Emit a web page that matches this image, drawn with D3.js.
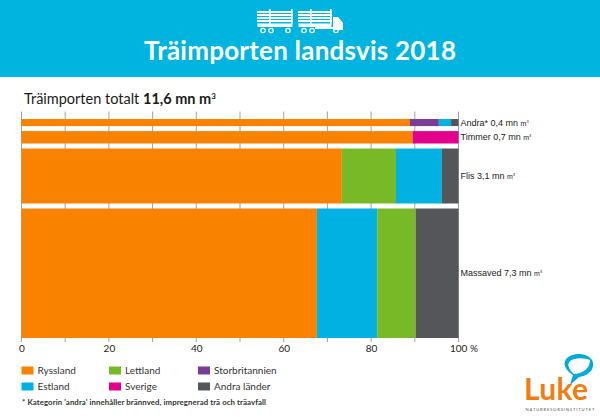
<!DOCTYPE html>
<html>
<head>
<meta charset="utf-8">
<script src="https://cdn.jsdelivr.net/npm/d3@7"></script>
<style>
  html, body { margin: 0; padding: 0; background: #fff; }
  svg { display: block; }
  text { font-family: Lato, "Noto Sans", sans-serif; }
</style>
</head>
<body>
<svg id="chart" width="600" height="417"></svg>
<script>
// bar names and total volume (mn m3), top to bottom
const categories = ["Andra*", "Timmer", "Flis", "Massaved"];
const volumes = [0.4, 0.7, 3.1, 7.3];
const volumeLabels = ["0,4", "0,7", "3,1", "7,3"];

// share of each bar in %, the order differs per bar
const andraParts = ["Ryssland", "Storbritannien", "Estland", "Andra länder"];
const andraValues = [88.9, 6.6, 2.8, 1.7];
const timmerParts = ["Ryssland", "Sverige"];
const timmerValues = [89.5, 10.5];
const flisParts = ["Ryssland", "Lettland", "Estland", "Andra länder"];
const flisValues = [73.3, 12.4, 10.5, 3.8];
const massavedParts = ["Ryssland", "Estland", "Lettland", "Andra länder"];
const massavedValues = [67.6, 13.8, 8.8, 9.8];

const allParts = [andraParts, timmerParts, flisParts, massavedParts];
const allValues = [andraValues, timmerValues, flisValues, massavedValues];

const legendRow1 = ["Ryssland", "Lettland", "Storbritannien"];
const legendRow2 = ["Estland", "Sverige", "Andra länder"];
const countries = ["Ryssland", "Lettland", "Storbritannien", "Estland", "Sverige", "Andra länder"];
const countryColors = ["#f98200", "#78b928", "#7b3c98", "#00b1e1", "#e2008c", "#54565a"];

const xTicks = d3.range(0, 101, 10);

const svg = d3.select("#chart");
const color = d3.scaleOrdinal(countries, countryColors);

// header
svg.append("rect").attr("width", 600).attr("height", 77).attr("fill", "#00b4e0");
svg.append("text")
    .attr("x", 300).attr("y", 60)
    .attr("text-anchor", "middle")
    .attr("font-size", 26)
    .attr("font-weight", 700)
    .attr("fill", "#fff")
    .attr("textLength", 312)
    .text("Träimporten landsvis 2018");

// truck icon
const truck = svg.append("g").attr("fill", "#fff");
[[257, 293], [298, 332]].forEach(([a, b]) => {
    [11, 14, 17, 20].forEach(y => truck.append("rect").attr("x", a).attr("y", y).attr("width", b - a).attr("height", 2));
    truck.append("rect").attr("x", a + 0.5).attr("y", 23.5).attr("width", b - a - 1).attr("height", 3.5);
    [a + 12, b - 2].forEach(x => truck.append("rect").attr("x", x).attr("y", 9).attr("width", 1.6).attr("height", 15));
});
truck.append("path").attr("d", "M333 17h5l5 6v7h-10z");
truck.append("rect").attr("x", 315).attr("y", 27).attr("width", 20).attr("height", 2);
[[263, 28], [271, 28], [288, 28], [304, 28], [312, 28], [336, 28]].forEach(([x, y]) => {
    truck.append("circle").attr("cx", x).attr("cy", y + 2.5).attr("r", 2.2)
        .attr("fill", "none").attr("stroke", "#fff").attr("stroke-width", 1.2);
});

// heading above the chart
const heading = svg.append("text").attr("x", 24).attr("y", 104).attr("font-size", 14.5).attr("fill", "#1a1a1a");
heading.append("tspan").text("Träimporten totalt ");
heading.append("tspan").attr("font-weight", 700).text("11,6 mn m");
heading.append("tspan").attr("font-weight", 700).attr("font-size", 8).attr("dy", -5).text("3");

// scales
const x = d3.scaleLinear().domain([0, 100]).range([21.5, 458.5]);
const gap = 5;
const yTop = 119, yBottom = 338;
const y = d3.scaleLinear()
    .domain([0, d3.sum(volumes)])
    .range([yTop, yBottom - gap * (volumes.length - 1)]);

// ticks run through the whole plot behind the bars
svg.append("g")
    .selectAll("line")
    .data(xTicks)
    .join("line")
    .attr("x1", d => x(d)).attr("x2", d => x(d))
    .attr("y1", 111.5).attr("y2", yBottom + 4)
    .attr("stroke", "#8a8a8a")
    .attr("stroke-width", 0.8);

const axis = svg.append("g")
    .attr("transform", `translate(0,${yBottom + 4})`)
    .call(d3.axisBottom(x)
        .tickValues(xTicks)
        .tickSize(0)
        .tickFormat(d => d === 100 ? "100 %" : d % 20 === 0 ? d : ""));
axis.select(".domain").remove();
axis.selectAll("text")
    .attr("font-size", 10)
    .attr("font-family", "Lato, sans-serif")
    .attr("fill", "#222")
    .attr("y", 3)
    .attr("dy", "0.71em");
axis.selectAll("text").filter(d => d === 100).attr("dx", 5);

// bars
let used = 0;
categories.forEach((cat, i) => {
    const y0 = y(used) + gap * i;
    const y1 = y(used + volumes[i]) + gap * i;
    used += volumes[i];
    let acc = 0;
    const rows = allValues[i].map((v, j) => {
        const r = { part: allParts[i][j], start: acc, end: acc + v };
        acc += v;
        return r;
    });
    svg.append("g").selectAll("rect")
        .data(rows)
        .join("rect")
        .attr("x", d => x(d.start))
        .attr("width", d => x(d.end) - x(d.start))
        .attr("y", y0)
        .attr("height", y1 - y0)
        .attr("fill", d => color(d.part));

    const label = svg.append("text")
        .attr("x", 460.5)
        .attr("y", (y0 + y1) / 2 + 3)
        .attr("font-size", 9)
        .attr("fill", "#222")
        .style("font-family", '"Liberation Sans", sans-serif');
    label.append("tspan").text(`${cat} ${volumeLabels[i]} mn `);
    label.append("tspan").attr("font-size", 7).text("m");
    label.append("tspan").attr("font-size", 4).attr("dy", -3).text("3");
});

// legend
const legendX = [21.5, 109, 198];
const legendY = [366.5, 382.5];
[legendRow1, legendRow2].forEach((row, r) => {
    row.forEach((name, c) => {
        svg.append("rect")
            .attr("x", legendX[c]).attr("y", legendY[r])
            .attr("width", 12).attr("height", 8)
            .attr("fill", color(name));
        svg.append("text")
            .attr("x", legendX[c] + 16).attr("y", legendY[r] + 7.5)
            .attr("font-size", 10)
            .attr("fill", "#333")
            .text(name);
    });
});
svg.append("text")
    .attr("x", 22).attr("y", 405)
    .attr("font-size", 7.8)
    .attr("font-weight", 700)
    .attr("fill", "#333")
    .attr("textLength", 244)
    .text("* Kategorin 'andra' innehåller brännved, impregnerad trä och träavfall");

// Luke logo
svg.append("path")
    .attr("fill", "#00a9d8")
    .attr("d", "M570 385 L573 375 C565 370 562 363 567 358 C574 352 587 353 592 360 C596 368 589 376 579 377 Z");
svg.append("path")
    .attr("fill", "#fff")
    .attr("d", "M574 374 C568 369 567 364 570 361 C575 357 585 358 590 360 C590 367 585 373 574 374 Z");
svg.append("text")
    .attr("x", 524).attr("y", 400)
    .attr("font-size", 30)
    .attr("font-weight", 700)
    .attr("fill", "#ef7d14")
    .attr("textLength", 64)
    .text("Luke");
svg.append("text")
    .attr("x", 525.5).attr("y", 410.5)
    .attr("font-size", 4.2)
    .attr("fill", "#555")
    .attr("textLength", 69)
    .text("NATURRESURSINSTITUTET");
</script>
</body>
</html>
